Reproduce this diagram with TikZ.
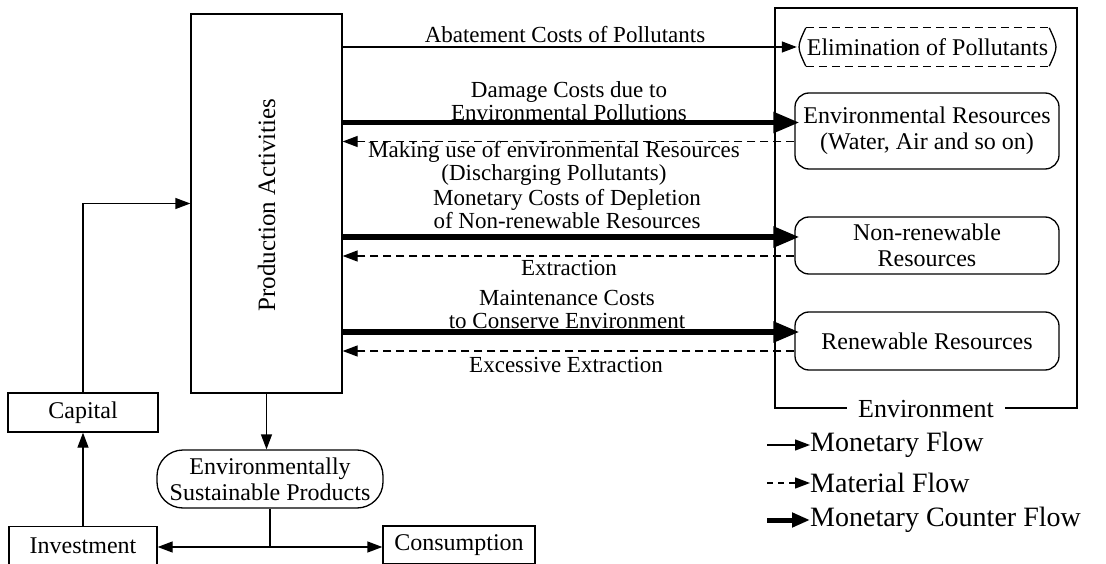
\documentclass[tikz,border=0pt]{standalone}
\usepackage{fontspec}
\setmainfont{Liberation Serif}
\usetikzlibrary{arrows.meta,calc}
\newcommand\myBoxFont{\fontsize{24}{26}\selectfont\lineskiplimit=-50pt}
\newcommand\myLblFont{\fontsize{23}{23}\selectfont\lineskiplimit=-50pt}
\newcommand\myLegFont{\fontsize{28}{30}\selectfont}
\newcommand\myEnvFont{\fontsize{26}{28}\selectfont}
\begin{document}
\begin{tikzpicture}[x=1pt,y=-1pt,
  box/.style={draw, line width=1.3pt, inner sep=0pt, align=center, font=\myBoxFont},
  rbox/.style={box, rounded corners=14pt},
  thinarr/.style={line width=1.3pt, -{Triangle[length=15pt,width=11pt]}},
  matarr/.style={thinarr, dash pattern=on 8pt off 5pt},
  heavyarr/.style={line width=5.5pt, -{Triangle[length=26pt,width=20pt]}},
  lbl/.style={align=center, font=\myLblFont, inner sep=0pt},
  legtxt/.style={anchor=west, font=\myLegFont, inner xsep=0pt, inner ysep=1pt}]
\useasboundingbox (0,0) rectangle (1106,564);

% main boxes
\node[box, minimum width=151pt, minimum height=379pt] (prod) at (266.5,203.5) {};
\node[font=\fontsize{25}{26}\selectfont, rotate=90, inner sep=0pt] (prodlbl) at (266.5,205) {Production Activities};
\node[box, minimum width=150pt, minimum height=39pt] (cap) at (83,412.5) {Capital};
\node[box, minimum width=148pt, minimum height=38pt] (inv) at (83,545.5) {Investment};
\node[box, minimum width=152pt, minimum height=38pt] (cons) at (459,545) {Consumption};
\node[box, rounded corners=26pt, minimum width=226pt, minimum height=58pt] (esp) at (270,479) {Environmentally\\Sustainable Products};

% environment
\node[draw, line width=1.3pt, minimum width=302pt, minimum height=400pt] (env) at (926,208) {};
\node[fill=white, inner xsep=11pt, inner ysep=2pt, font=\myEnvFont] (envlbl) at (env.south) {Environment};
\node[font=\myBoxFont, inner sep=0pt, minimum width=261pt, minimum height=38pt] (elim) at (927.5,47) {Elimination of Pollutants};
\draw[line width=1.3pt, dash pattern=on 8pt off 5pt] ([xshift=9pt]elim.north west) -- ([xshift=-9pt]elim.north east);
\draw[line width=1.3pt, dash pattern=on 8pt off 5pt] ([xshift=9pt]elim.south west) -- ([xshift=-9pt]elim.south east);
\draw[line width=1.3pt] ([xshift=9pt]elim.north west) .. controls (elim.west) .. ([xshift=9pt]elim.south west);
\draw[line width=1.3pt] ([xshift=-9pt]elim.north east) .. controls (elim.east) .. ([xshift=-9pt]elim.south east);
\node[rbox, minimum width=264pt, minimum height=76pt] (envres) at (927,131) {Environmental Resources\\(Water, Air and so on)};
\node[rbox, minimum width=264pt, minimum height=57pt] (nonren) at (927,245.5) {Non-renewable\\Resources};
\node[rbox, minimum width=264pt, minimum height=58pt] (ren) at (927,341) {Renewable Resources};

% flows between production and environment
\draw[thinarr] (elim.west -| prod.east) -- (elim.west);
\coordinate (a1) at ([yshift=8.5pt]envres.west);
\coordinate (b1) at ([yshift=-10.5pt]envres.west);
\coordinate (a2) at ([yshift=8.5pt]nonren.west);
\coordinate (b2) at ([yshift=-10.5pt]nonren.west);
\coordinate (a3) at ([yshift=9pt]ren.west);
\coordinate (b3) at ([yshift=-10pt]ren.west);
\draw[heavyarr] (a1 -| prod.east) -- ([xshift=5pt]a1);
\draw[matarr] (b1) -- (b1 -| prod.east);
\draw[heavyarr] (a2 -| prod.east) -- ([xshift=5pt]a2);
\draw[matarr] (b2) -- (b2 -| prod.east);
\draw[heavyarr] (a3 -| prod.east) -- ([xshift=5pt]a3);
\draw[matarr] (b3) -- (b3 -| prod.east);

% labels
\node[lbl] (l1) at (565,35) {Abatement Costs of Pollutants};
\node[lbl] (l2) at (569,101) {Damage Costs due to\\Environmental Pollutions};
\node[lbl] (l3) at (554,163) {Making use of environmental Resources\\(Discharging Pollutants)};
\node[lbl] (l4) at (567,209) {Monetary Costs of Depletion\\of Non-renewable Resources};
\node[lbl] (l5) at (569,268) {Extraction};
\node[lbl] (l6) at (567,309) {Maintenance Costs\\to Conserve Environment};
\node[lbl] (l7) at (566,365) {Excessive Extraction};

% lower part
\coordinate (j) at (esp.south |- 0,547);
\draw[thinarr] (prod.south) -- (prod.south |- esp.north);
\draw[line width=1.3pt] (esp.south) -- (j);
\draw[thinarr] (j) -- (j -| inv.east);
\draw[thinarr] (j) -- (j -| cons.west);
\draw[thinarr] (inv.north) -- (cap.south);
\draw[thinarr] (cap.north) |- (prod.west);

% legend
\coordinate (g1) at (767,445);
\coordinate (g2) at (767,483);
\coordinate (g3) at (767,520);
\node[legtxt] (t1) at (810,445) {Monetary Flow};
\node[legtxt] (t2) at (810,483) {Material Flow};
\node[legtxt] (t3) at (810,520) {Monetary Counter Flow};
\draw[thinarr] (g1) -- (t1.west);
\draw[thinarr, dash pattern=on 6pt off 5pt] (g2) -- (t2.west);
\draw[line width=5pt, -{Triangle[length=18pt,width=14pt]}] (g3) -- (t3.west);
\end{tikzpicture}
\end{document}
